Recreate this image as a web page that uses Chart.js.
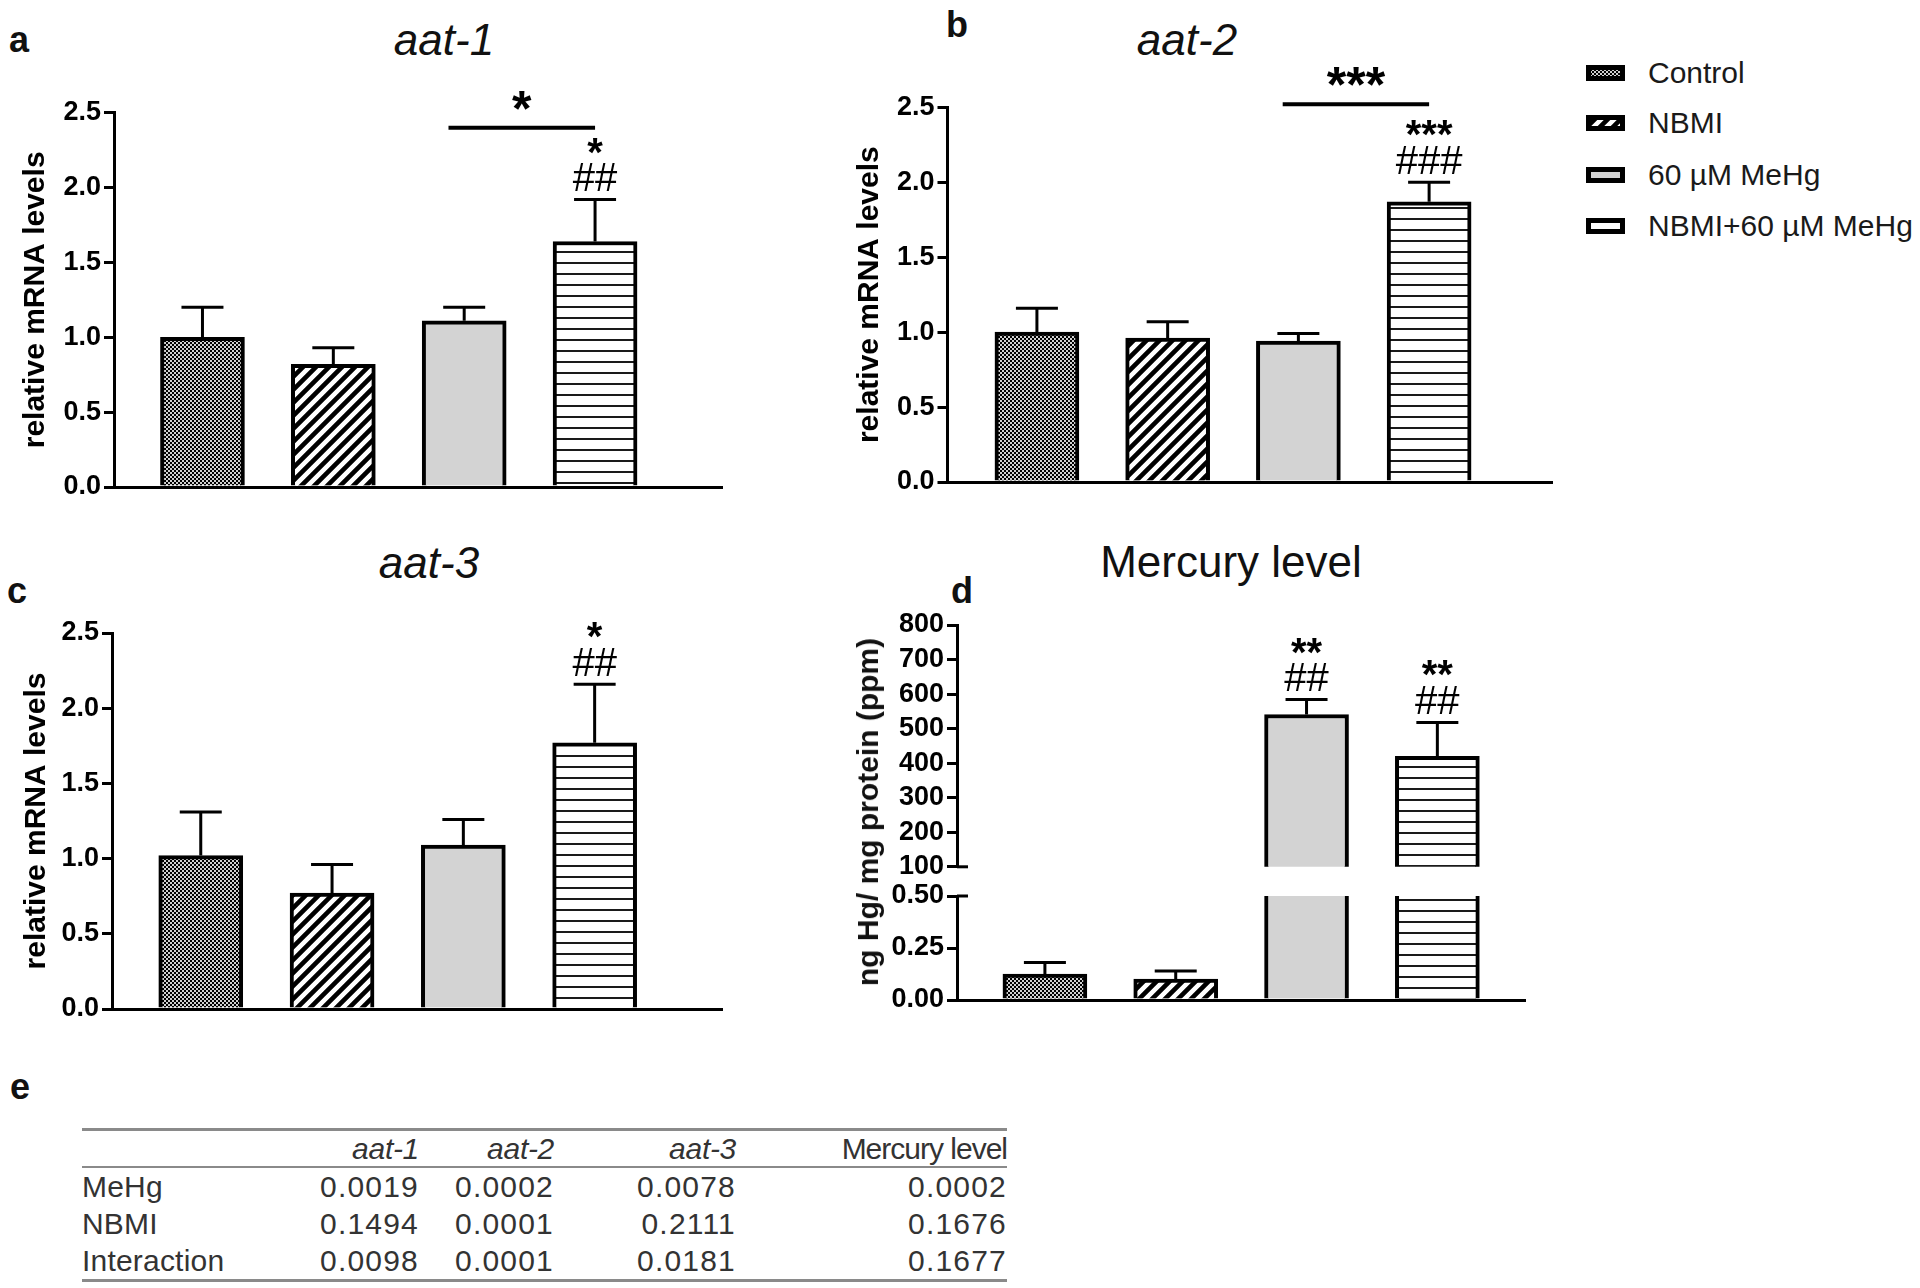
<!DOCTYPE html>
<html>
<head>
<meta charset="utf-8">
<title>aat expression and mercury level</title>
<script src="https://cdn.jsdelivr.net/npm/chart.js@4.4.1/dist/chart.umd.min.js"></script>
<style>
  body { margin: 0; background: #fff; font-family: "Liberation Sans", Arial, sans-serif; color: #111; }
  #page { position: relative; width: 1920px; height: 1288px; overflow: hidden; }
  #page > canvas { position: absolute; }
  .letter { position: absolute; font-size: 36px; line-height: 36px; font-weight: bold; }
  .title { position: absolute; font-size: 44px; line-height: 44px; white-space: nowrap; transform: translateX(-50%); }
  .ylab { position: absolute; font-size: 30px; line-height: 36px; font-weight: bold; white-space: nowrap; transform: translate(-50%, -50%) rotate(-90deg); }
  .legend { position: absolute; left: 1586px; height: 30px; display: flex; align-items: center; font-size: 30px; line-height: 30px; white-space: nowrap; color: #1a1a1a; }
  .legend canvas { margin-right: 23px; }
  #anova { position: absolute; left: 82px; top: 1128px; border-collapse: collapse; font-size: 30px; color: #333;
           border-top: 3px solid #8a8a8a; border-bottom: 3px solid #8a8a8a; }
  #anova th, #anova td { padding: 0; font-weight: normal; text-align: right; white-space: nowrap; }
  #anova th { height: 35px; border-bottom: 2px solid #8a8a8a; letter-spacing: -0.3px; }
  #anova td { height: 37px; letter-spacing: 1.2px; }
  #anova .rowname { text-align: left; letter-spacing: 0.2px; }
  #anova .wide { letter-spacing: -1px; }
</style>
</head>
<body>
<div id="page">
  <div class="letter" style="left:9px;top:22px">a</div>
  <div class="letter" style="left:946px;top:7px">b</div>
  <div class="letter" style="left:7px;top:573px">c</div>
  <div class="letter" style="left:951px;top:573px">d</div>
  <div class="letter" style="left:10px;top:1069px">e</div>

  <div class="title" style="left:444px;top:18px"><i>aat-1</i></div>
  <div class="title" style="left:1187px;top:18px"><i>aat-2</i></div>
  <div class="title" style="left:429px;top:541px"><i>aat-3</i></div>
  <div class="title" style="left:1231px;top:540px">Mercury level</div>

  <canvas id="chartA" width="740" height="497" style="left:0;top:20px"></canvas>
  <canvas id="chartB" width="740" height="492" style="left:830px;top:20px"></canvas>
  <canvas id="chartC" width="740" height="449" style="left:0;top:590px"></canvas>
  <canvas id="chartDHigh" width="720" height="296" style="left:830px;top:590px"></canvas>
  <canvas id="chartDLow" width="720" height="164" style="left:830px;top:866px"></canvas>
  <div class="ylab" style="left:868px;top:812px">ng Hg/ mg protein (ppm)</div>

  <table id="anova"></table>
</div>

<script>
// groups
const groups = ['Control', 'NBMI', '60 µM MeHg', 'NBMI+60 µM MeHg']

// mean and SEM per group
const aat1Mean = [1.00, 0.82, 1.11, 1.64]
const aat1Sem = [0.20, 0.11, 0.09, 0.28]
const aat2Mean = [1.00, 0.96, 0.94, 1.87]
const aat2Sem = [0.16, 0.11, 0.05, 0.13]
const aat3Mean = [1.02, 0.77, 1.09, 1.77]
const aat3Sem = [0.29, 0.19, 0.17, 0.39]
const hgMean = [0.125, 0.10, 541, 420]
const hgSem = [0.055, 0.04, 43, 98]

// tick labels
const mrnaTicks = [0, 0.5, 1.0, 1.5, 2.0, 2.5]
const hgTicksHigh = [100, 200, 300, 400, 500, 600, 700, 800]
const hgTicksLow = [0, 0.25, 0.50]

// significance marks above each bar, lowest line first
const aat1Sig = [[], [], [], ['##', '*']]
const aat2Sig = [[], [], [], ['###', '***']]
const aat3Sig = [[], [], [], ['##', '*']]
const hgSig = [[], [], ['##', '**'], ['##', '**']]

// brackets between MeHg and NBMI+MeHg
const aat1Bracket = { from: 2.88, to: 4, level: 2.40, mark: '*' }
const aat2Bracket = { from: 2.88, to: 4, level: 2.52, mark: '***' }

// two-way ANOVA p values
const anovaCols = ['aat-1', 'aat-2', 'aat-3', 'Mercury level']
const anovaRows = ['MeHg', 'NBMI', 'Interaction']
const pMeHg = ['0.0019', '0.0002', '0.0078', '0.0002']
const pNbmi = ['0.1494', '0.0001', '0.2111', '0.1676']
const pInteraction = ['0.0098', '0.0001', '0.0181', '0.1677']

const FONT = '"Liberation Sans", Arial, sans-serif'
Chart.defaults.font.family = FONT
Chart.defaults.color = '#000'
Chart.defaults.animation = false

//Fill patterns
function makeTile(w, h, draw) {
  const c = document.createElement('canvas')
  c.width = w
  c.height = h
  draw(c.getContext('2d'), w, h)
  return c
}
const dotTile = makeTile(4, 4, g => {
  g.fillStyle = '#d0d0d0'; g.fillRect(0, 0, 4, 4)
  g.fillStyle = '#000'; g.fillRect(0, 0, 2, 2); g.fillRect(2, 2, 2, 2)
})
const slashTile = makeTile(13, 13, (g, s) => {
  g.fillStyle = '#fff'; g.fillRect(0, 0, s, s)
  g.strokeStyle = '#000'; g.lineWidth = 4.6
  g.beginPath()
  g.moveTo(-s, s); g.lineTo(s, -s)
  g.moveTo(0, s); g.lineTo(s, 0)
  g.moveTo(0, 2 * s); g.lineTo(2 * s, 0)
  g.stroke()
})
const lineTile = makeTile(8, 11, g => {
  g.fillStyle = '#fff'; g.fillRect(0, 0, 8, 11)
  g.fillStyle = '#1a1a1a'; g.fillRect(0, 0, 8, 2)
})
const pctx = document.createElement('canvas').getContext('2d')
const fills = [
  pctx.createPattern(dotTile, 'repeat'),
  pctx.createPattern(slashTile, 'repeat'),
  '#d3d3d3',
  pctx.createPattern(lineTile, 'repeat'),
]

//Error bars, significance marks and brackets
const marks = {
  id: 'marks',
  afterDatasetsDraw(chart) {
    const ctx = chart.ctx
    const ds = chart.data.datasets[0]
    const bars = chart.getDatasetMeta(0).data
    const x = chart.scales.x
    const y = chart.scales.y
    const area = chart.chartArea

    ctx.save()
    ctx.beginPath()
    ctx.rect(area.left, area.top - 2, area.right - area.left, area.bottom - area.top + 2)
    ctx.clip()
    ctx.strokeStyle = '#000'
    ctx.lineWidth = 3
    bars.forEach((bar, i) => {
      const top = y.getPixelForValue(ds.data[i].y + ds.sem[i])
      ctx.beginPath()
      ctx.moveTo(bar.x, bar.y)
      ctx.lineTo(bar.x, top)
      ctx.moveTo(bar.x - 21, top)
      ctx.lineTo(bar.x + 21, top)
      ctx.stroke()
    })
    ctx.restore()

    ctx.save()
    ctx.fillStyle = '#000'
    ctx.textAlign = 'center'
    ctx.textBaseline = 'alphabetic'
    if (ds.sig) {
      ds.sig.forEach((lines, i) => {
        const top = y.getPixelForValue(ds.data[i].y + ds.sem[i])
        lines.forEach((txt, k) => {
          ctx.font = (txt[0] === '*' ? 'bold ' : '') + '40px ' + FONT
          ctx.fillText(txt, bars[i].x, top - [8.5, 34][k])
        })
      })
    }
    if (ds.bracket) {
      const b = ds.bracket
      const x0 = x.getPixelForValue(b.from)
      const x1 = x.getPixelForValue(b.to)
      const yb = y.getPixelForValue(b.level)
      ctx.strokeStyle = '#000'
      ctx.lineWidth = 4
      ctx.beginPath()
      ctx.moveTo(x0, yb)
      ctx.lineTo(x1, yb)
      ctx.stroke()
      ctx.font = 'bold 50px ' + FONT
      ctx.fillText(b.mark, (x0 + x1) / 2, yb - 2)
    }
    if (ds.breakAt !== undefined) {
      const yy = y.getPixelForValue(ds.breakAt)
      ctx.strokeStyle = '#000'
      ctx.lineWidth = 3
      ctx.beginPath()
      ctx.moveTo(area.left, yy)
      ctx.lineTo(area.left + 11, yy)
      ctx.stroke()
    }
    ctx.restore()
  }
}

function drawPanel(id, mean, sem, p) {
  return new Chart(document.getElementById(id), {
    type: 'bar',
    data: {
      datasets: [{
        label: groups.join(' / '),
        data: mean.map((v, i) => ({ x: i + 1, y: v })),
        backgroundColor: fills,
        borderColor: '#000',
        borderWidth: 4,
        borderSkipped: 'start',
        barThickness: 84,
        clip: 0,
        sem: sem,
        sig: p.sig,
        bracket: p.bracket,
        breakAt: p.breakAt,
      }]
    },
    options: {
      responsive: false,
      layout: { padding: { top: p.top, right: p.right, bottom: p.bottom, left: 0 } },
      plugins: { legend: { display: false }, tooltip: { enabled: false } },
      scales: {
        x: {
          type: 'linear',
          offset: false,
          min: p.xMin,
          max: p.xMax,
          display: p.showX,
          afterFit: s => { s.height = 0 },
          ticks: { display: false },
          grid: { display: true, drawOnChartArea: false, drawTicks: false },
          border: { display: true, color: '#000', width: 3 },
        },
        y: {
          type: 'linear',
          min: p.min,
          max: p.max,
          afterBuildTicks: s => { s.ticks = p.ticks.map(v => ({ value: v })) },
          afterFit: s => { s.width = p.yWidth },
          ticks: {
            color: '#000',
            padding: 3,
            autoSkip: false,
            font: { family: FONT, size: 27, weight: 'bold' },
            callback: v => v.toFixed(p.dec),
          },
          grid: { display: true, drawOnChartArea: false, drawTicks: true, tickLength: 10, color: '#000', lineWidth: 3 },
          border: { display: true, color: '#000', width: 3 },
          title: {
            display: !!p.title,
            text: p.title || '',
            color: '#000',
            font: { family: FONT, size: 30, weight: 'bold' },
            padding: { top: p.titlePad || 0, bottom: 0 },
          },
        }
      }
    },
    plugins: [marks]
  })
}

drawPanel('chartA', aat1Mean, aat1Sem, {
  top: 92.7, right: 18, bottom: 30, yWidth: 114, showX: true, xMin: 0.324, xMax: 4.97,
  min: 0, max: 2.5, ticks: mrnaTicks, dec: 1,
  title: 'relative mRNA levels', titlePad: 18,
  sig: aat1Sig, bracket: aat1Bracket,
})
drawPanel('chartB', aat2Mean, aat2Sem, {
  top: 87.3, right: 18, bottom: 30, yWidth: 117.5, showX: true, xMin: 0.316, xMax: 4.94,
  min: 0, max: 2.5, ticks: mrnaTicks, dec: 1,
  title: 'relative mRNA levels', titlePad: 22,
  sig: aat2Sig, bracket: aat2Bracket,
})
drawPanel('chartC', aat3Mean, aat3Sem, {
  top: 43, right: 18, bottom: 30, yWidth: 112, showX: true, xMin: 0.324, xMax: 4.97,
  min: 0, max: 2.5, ticks: mrnaTicks, dec: 1,
  title: 'relative mRNA levels', titlePad: 19,
  sig: aat3Sig,
})
drawPanel('chartDHigh', hgMean, hgSem, {
  top: 35, right: 25, bottom: 18, yWidth: 127, showX: false, xMin: 0.328, xMax: 4.67,
  min: 100, max: 800, ticks: hgTicksHigh, dec: 0,
  sig: hgSig, breakAt: 100,
})
drawPanel('chartDLow', hgMean, hgSem, {
  top: 30, right: 25, bottom: 30, yWidth: 127, showX: true, xMin: 0.328, xMax: 4.67,
  min: 0, max: 0.5, ticks: hgTicksLow, dec: 2,
  breakAt: 0.5,
})

//Legend
const legendTops = [58, 108, 160, 211]
groups.forEach((name, i) => {
  const row = document.createElement('div')
  row.className = 'legend'
  row.style.top = legendTops[i] + 'px'
  const sw = document.createElement('canvas')
  sw.width = 39
  sw.height = 16
  const g = sw.getContext('2d')
  g.fillStyle = fills[i]
  g.fillRect(0, 0, 39, 16)
  g.strokeStyle = '#000'
  g.lineWidth = 5
  g.strokeRect(2.5, 2.5, 34, 11)
  row.appendChild(sw)
  row.appendChild(document.createTextNode(name))
  document.getElementById('page').appendChild(row)
})

//ANOVA table
const colWidths = [230, 107, 135, 182, 271]
const table = document.getElementById('anova')
const head = document.createElement('tr')
head.innerHTML = `<th class="rowname" style="width:${colWidths[0]}px"></th>` +
  anovaCols.map((c, j) => {
    const txt = c.startsWith('aat') ? `<i>${c}</i>` : c
    const cls = c.startsWith('aat') ? '' : ' class="wide"'
    return `<th${cls} style="width:${colWidths[j + 1]}px">${txt}</th>`
  }).join('')
table.appendChild(head)
const pRows = [pMeHg, pNbmi, pInteraction]
anovaRows.forEach((name, r) => {
  const tr = document.createElement('tr')
  tr.innerHTML = `<td class="rowname">${name}</td>` + pRows[r].map(v => `<td>${v}</td>`).join('')
  table.appendChild(tr)
})
</script>
</body>
</html>
